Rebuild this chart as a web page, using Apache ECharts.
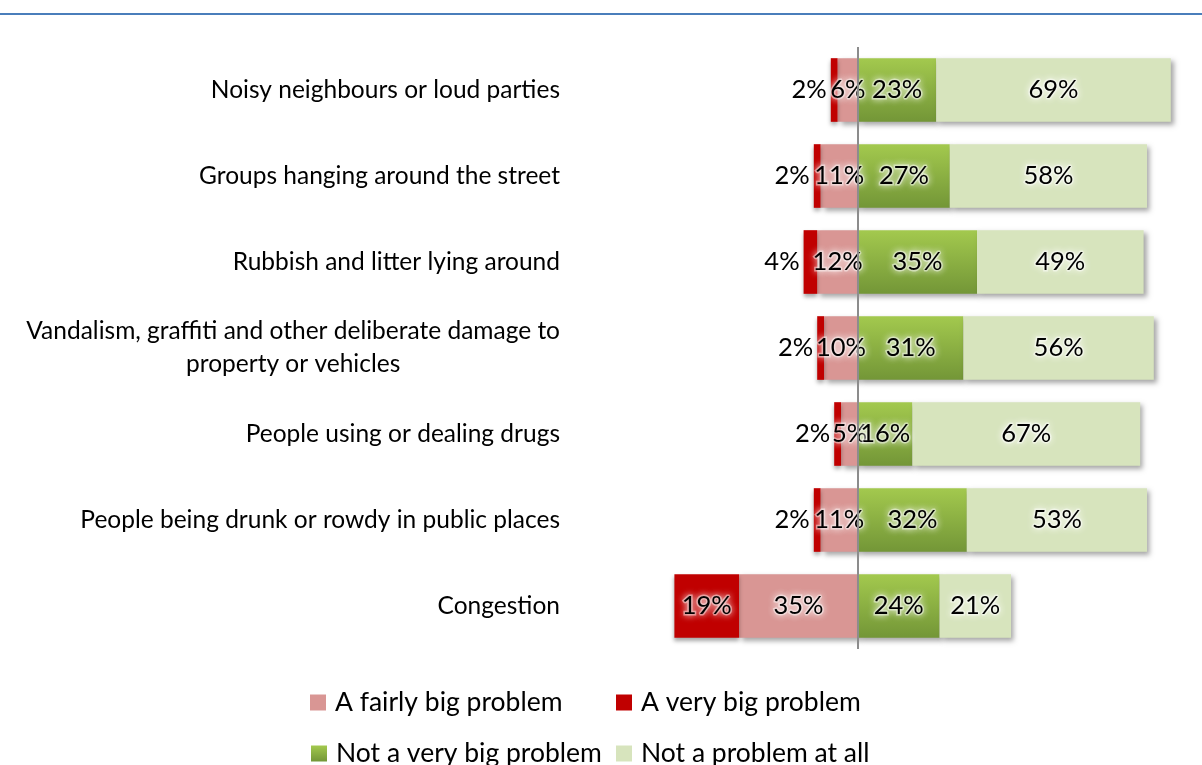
<!DOCTYPE html>
<html>
<head>
<meta charset="utf-8">
<script src="https://cdn.jsdelivr.net/npm/echarts@6/dist/echarts.min.js"></script>
<style>
  html, body { margin: 0; padding: 0; background: #fff; }
  #chart { width: 1202px; height: 765px; }
</style>
</head>
<body>
<div id="chart"></div>
<script>
// Survey: how big a problem each issue is in the local area (% of respondents)
const categories = [
  'Noisy neighbours or loud parties',
  'Groups hanging around the street',
  'Rubbish and litter lying around',
  'Vandalism, graffiti and other deliberate damage to\nproperty or vehicles',
  'People using or dealing drugs',
  'People being drunk or rowdy in public places',
  'Congestion'
];
const veryBig    = [2, 2, 4, 2, 2, 2, 19];
const fairlyBig  = [6, 11, 12, 10, 5, 11, 35];
const notVeryBig = [23, 27, 35, 31, 16, 32, 24];
const notAtAll   = [69, 58, 49, 56, 67, 53, 21];

const FONT = 'Lato, "Open Sans", sans-serif';

const barShadow = {
  shadowColor: 'rgba(0,0,0,0.35)',
  shadowBlur: 5,
  shadowOffsetX: 3,
  shadowOffsetY: 3
};

const glowLabel = {
  show: true,
  position: 'inside',
  fontFamily: FONT,
  fontSize: 25.5,
  color: '#000',
  textShadowColor: 'rgba(255,255,255,0.95)',
  textShadowBlur: 7,
  textBorderColor: 'rgba(255,255,255,0.45)',
  textBorderWidth: 3,
  formatter: p => Math.abs(p.value) + '%'
};

const greenGradient = new echarts.graphic.LinearGradient(0, 0, 0, 1, [
  { offset: 0, color: '#a3c94e' },
  { offset: 1, color: '#739637' }
]);

const chart = echarts.init(document.getElementById('chart'), null, { renderer: 'canvas' });

// Very big problem labels sit just outside the bar, except where the segment is wide
const veryBigLabel = Object.assign({}, glowLabel, {
  position: 'left', distance: 4,
  textShadowBlur: 0, textBorderWidth: 0
});

chart.setOption({
  animation: false,
  backgroundColor: '#fff',
  graphic: [{
    type: 'line',
    shape: { x1: 0, y1: 14, x2: 1202, y2: 14 },
    style: { stroke: '#4a7ebb', lineWidth: 2 }
  }],
  grid: { left: 586, right: 4, top: 47, bottom: 116 },
  xAxis: {
    type: 'value', min: -80, max: 100,
    show: false
  },
  yAxis: {
    type: 'category',
    data: categories,
    inverse: true,
    axisLine: { show: false },
    axisTick: { show: false },
    axisLabel: {
      margin: 26,
      fontFamily: FONT,
      fontSize: 24.5,
      color: '#000',
      lineHeight: 33,
      formatter: v => v.split('\n').map(s => '{c|' + s + '}').join('\n'),
      rich: { c: { align: 'center', fontFamily: FONT, fontSize: 24.5, color: '#000', lineHeight: 33 } }
    }
  },
  legend: [
    { data: ['A fairly big problem'], left: 305, top: 684 },
    { data: ['A very big problem'], left: 611, top: 684 },
    { data: ['Not a very big problem'], left: 306, top: 735 },
    { data: ['Not a problem at all'], left: 611, top: 735 }
  ].map(l => Object.assign(l, {
    icon: 'rect', itemWidth: 16, itemHeight: 16,
    textStyle: { fontFamily: FONT, fontSize: 26.5, color: '#000', padding: [0, 0, 0, 4] }
  })),
  series: [
    {
      name: 'A fairly big problem', type: 'bar', stack: 'total',
      barCategoryGap: '26%',
      data: fairlyBig.map(v => -v),
      itemStyle: Object.assign({ color: '#d99694' }, barShadow),
      label: glowLabel
    },
    {
      name: 'A very big problem', type: 'bar', stack: 'total',
      data: veryBig.map((v, i) => v >= 10
        ? { value: -v, label: { position: 'inside', textShadowBlur: 7, textBorderWidth: 3 } }
        : -v),
      // drawn after the inner segment, so its shadow only drops downward
      itemStyle: Object.assign({}, barShadow, { color: '#c00000', shadowOffsetX: 0, shadowBlur: 4 }),
      label: veryBigLabel
    },
    {
      name: 'Not a very big problem', type: 'bar', stack: 'total',
      data: notVeryBig,
      itemStyle: Object.assign({ color: greenGradient }, barShadow),
      label: glowLabel,
      markLine: {
        silent: true, symbol: 'none', z: 10,
        label: { show: false },
        lineStyle: { color: '#8c8c8c', width: 2, type: 'solid' },
        data: [{ xAxis: 0 }]
      }
    },
    {
      name: 'Not a problem at all', type: 'bar', stack: 'total',
      data: notAtAll,
      itemStyle: Object.assign({ color: '#d7e4bd' }, barShadow),
      label: glowLabel
    }
  ]
});
</script>
</body>
</html>
